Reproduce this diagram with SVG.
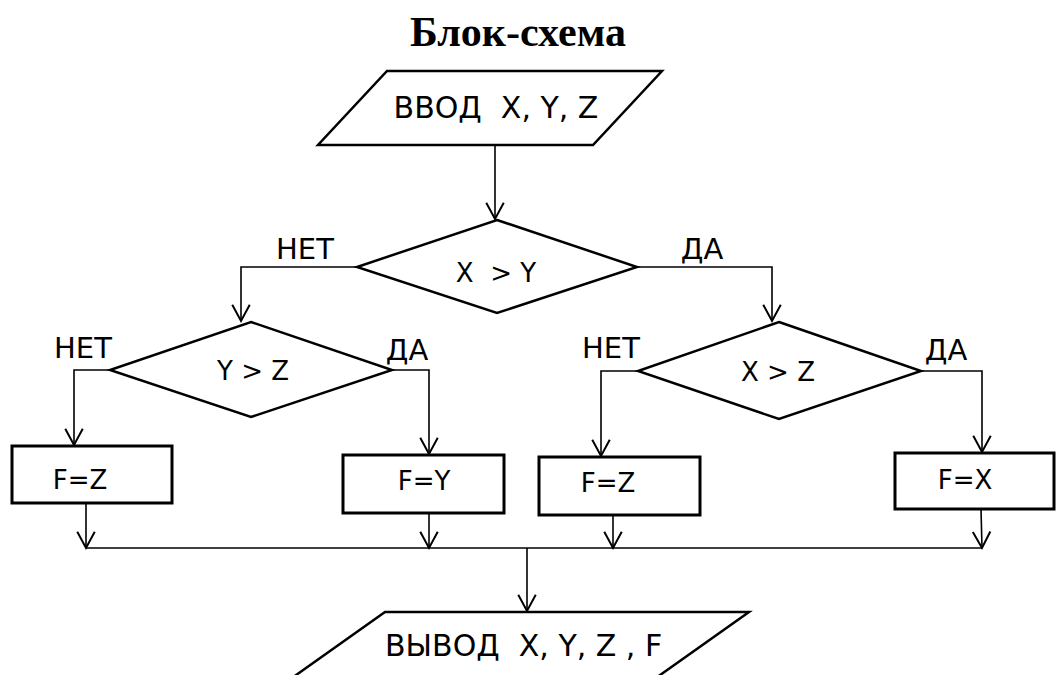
<svg xmlns="http://www.w3.org/2000/svg" width="1057" height="675" viewBox="0 0 1057 675">
<style>
.shape{fill:#fff;stroke:#000;stroke-width:2.5;stroke-linejoin:miter}
.box{fill:#fff;stroke:#000;stroke-width:3}
.conn{fill:none;stroke:#000;stroke-width:1.6}
.t{font-family:"DejaVu Sans","Verdana",sans-serif;font-size:26px;fill:#000;white-space:pre}
.io{font-size:30px}
.lbl{font-family:"DejaVu Sans","Verdana",sans-serif;font-size:29px;fill:#000}
.title{font-family:"Liberation Serif","Times New Roman",serif;font-size:42px;font-weight:bold;fill:#000}
</style>
<defs>
<marker id="arr" markerUnits="userSpaceOnUse" markerWidth="20" markerHeight="20" refX="0" refY="0" viewBox="-14 -8 16 16" orient="auto" overflow="visible">
<path d="M-13,-7 L0,0 L-13,7" fill="none" stroke="#000" stroke-width="1.6"/>
</marker>
</defs>
<rect width="1057" height="675" fill="#fff"/>
<text class="title" x="518" y="46" text-anchor="middle">Блок-схема</text>

<g id="input">
<polygon class="shape" points="387,71 662,71 593,145 318,145"/>
<text class="t io" x="496" y="118" text-anchor="middle">ВВОД  X, Y, Z</text>
</g>
<g id="cond1">
<polygon class="shape" points="497,220 637,267 497,313 357,267"/>
<text class="t" x="496" y="282" text-anchor="middle" font-size="27">X  &gt; Y</text>
</g>
<g id="cond2">
<polygon class="shape" points="251,322 392,370 251,417 110,370"/>
<text class="t" x="253" y="380" text-anchor="middle">Y &gt; Z</text>
</g>
<g id="cond3">
<polygon class="shape" points="779,322 921,371 779,419 638,371"/>
<text class="t" x="778" y="381" text-anchor="middle">X &gt; Z</text>
</g>
<g id="box1">
<rect class="box" x="12" y="446" width="160" height="57"/>
<text class="t" x="80" y="489" text-anchor="middle">F=Z</text>
</g>
<g id="box2">
<rect class="box" x="343" y="455" width="161" height="58"/>
<text class="t" x="424" y="490" text-anchor="middle">F=Y</text>
</g>
<g id="box3">
<rect class="box" x="539" y="457" width="161" height="58"/>
<text class="t" x="608" y="492" text-anchor="middle">F=Z</text>
</g>
<g id="box4">
<rect class="box" x="895" y="453" width="159" height="56"/>
<text class="t" x="965" y="489" text-anchor="middle">F=X</text>
</g>
<g id="output">
<polygon class="shape" points="385,612 749,612 639,690 275,690"/>
<text class="t io" x="385" y="656">ВЫВОД  X, Y, Z , F</text>
</g>

<g id="labels">
<text class="lbl" x="305" y="259" text-anchor="middle">НЕТ</text>
<text class="lbl" x="702" y="259" text-anchor="middle">ДА</text>
<text class="lbl" x="83" y="358" text-anchor="middle">НЕТ</text>
<text class="lbl" x="407" y="360" text-anchor="middle">ДА</text>
<text class="lbl" x="611" y="358" text-anchor="middle">НЕТ</text>
<text class="lbl" x="946" y="360" text-anchor="middle">ДА</text>
</g>

<g id="connectors">
<path class="conn" d="M495,145 V219" marker-end="url(#arr)"/>
<path class="conn" d="M357,267 H241 V321" marker-end="url(#arr)"/>
<path class="conn" d="M637,267 H772 V321" marker-end="url(#arr)"/>
<path class="conn" d="M110,370 H74 V445" marker-end="url(#arr)"/>
<path class="conn" d="M392,370 H429 V454" marker-end="url(#arr)"/>
<path class="conn" d="M638,371 H601 V456" marker-end="url(#arr)"/>
<path class="conn" d="M921,371 H982 V452" marker-end="url(#arr)"/>
<path class="conn" d="M86,503 V548" marker-end="url(#arr)"/>
<path class="conn" d="M429,513 V548" marker-end="url(#arr)"/>
<path class="conn" d="M613,515 V548" marker-end="url(#arr)"/>
<path class="conn" d="M981,509 L982,548" marker-end="url(#arr)"/>
<path class="conn" d="M86,548 H982"/>
<path class="conn" d="M527,548 V611" marker-end="url(#arr)"/>
</g>
</svg>
